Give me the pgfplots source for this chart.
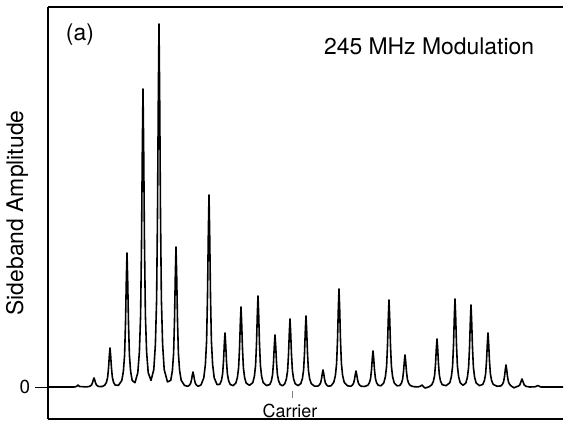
\documentclass[border=0pt]{standalone}
\usepackage{fontspec}
\setmainfont{TeX Gyre Heros}
\usepackage{pgfplots}
\pgfplotsset{compat=1.18}
\begin{document}
\begin{tikzpicture}
\useasboundingbox (-48bp,-3bp) rectangle (516bp,419bp);
\begin{axis}[
  at={(0,0)}, anchor=south west,
  scale only axis, width=515bp, height=412bp,
  xmin=48, xmax=563, ymin=-32, ymax=380,
  axis x line*=box, axis y line*=left,
  axis line style={line width=1.3pt, black},
  xtick=\empty, ytick={0}, yticklabels={},
  tick align=outside, major tick length=13bp,
  tick style={line width=1pt, black},
  clip=false,
]
\addplot[black, line width=1.6pt, line join=round] coordinates {
(48,0) (70,0) (74,0) (76.5,0.5) (78,2) (79.5,0.5) (86,0.1)
(88.8,0.43) (90.4,1.06) (91.6,2.16) (92.5,4.28) (93.35,7.29) (94,9) (94.65,7.29) (95.5,4.28) (96.4,2.16) (97.6,1.06) (99.2,0.43)
(102,0.48)
(104.8,1.87) (106.4,4.60) (107.6,9.36) (108.5,18.53) (109.35,31.59) (110,39) (110.65,31.59) (111.5,18.53) (112.4,9.36) (113.6,4.60) (115.2,1.87)
(118.5,1.73)
(121.8,6.43) (123.4,15.81) (124.6,32.16) (125.5,63.65) (126.35,108.54) (127,134) (127.65,108.54) (128.5,63.65) (129.4,32.16) (130.6,15.81) (132.2,6.43)
(135,4.32)
(137.8,14.30) (139.4,35.16) (140.6,71.52) (141.5,141.55) (142.35,241.38) (143,298) (143.65,241.38) (144.5,141.55) (145.4,71.52) (146.6,35.16) (148.2,14.30)
(151,6.61)
(153.8,17.42) (155.4,42.83) (156.6,87.12) (157.5,172.43) (158.35,294.03) (159,363) (159.65,294.03) (160.5,172.43) (161.4,87.12) (162.6,42.83) (164.2,17.42)
(167.5,5.03)
(170.8,6.72) (172.4,16.52) (173.6,33.6) (174.5,66.5) (175.35,113.4) (176,140) (176.65,113.4) (177.5,66.5) (178.4,33.6) (179.6,16.52) (181.2,6.72)
(184.5,1.55)
(187.8,0.72) (189.4,1.77) (190.6,3.6) (191.5,7.13) (192.35,12.15) (193,15) (193.65,12.15) (194.5,7.13) (195.4,3.6) (196.6,1.77) (198.2,0.72)
(201,2.07)
(203.8,9.22) (205.4,22.66) (206.6,46.08) (207.5,91.2) (208.35,155.52) (209,192) (209.65,155.52) (210.5,91.2) (211.4,46.08) (212.6,22.66) (214.2,9.22)
(217,2.46)
(219.8,2.59) (221.4,6.37) (222.6,12.96) (223.5,25.65) (224.35,43.74) (225,54) (225.65,43.74) (226.5,25.65) (227.4,12.96) (228.6,6.37) (230.2,2.59)
(233,1.34)
(235.8,3.84) (237.4,9.44) (238.6,19.2) (239.5,38) (240.35,64.8) (241,80) (241.65,64.8) (242.5,38) (243.4,19.2) (244.6,9.44) (246.2,3.84)
(249.5,1.71)
(252.8,4.37) (254.4,10.74) (255.6,21.84) (256.5,43.23) (257.35,73.71) (258,91) (258.65,73.71) (259.5,43.23) (260.4,21.84) (261.6,10.74) (263.2,4.37)
(266.5,1.43)
(269.8,2.50) (271.4,6.14) (272.6,12.48) (273.5,24.7) (274.35,42.12) (275,52) (275.65,42.12) (276.5,24.7) (277.4,12.48) (278.6,6.14) (280.2,2.50)
(282.5,1.2)
(284.8,3.26) (286.4,8.02) (287.6,16.32) (288.5,32.3) (289.35,55.08) (290,68) (290.65,55.08) (291.5,32.3) (292.4,16.32) (293.6,8.02) (295.2,3.26)
(298,1.39)
(300.8,3.41) (302.4,8.38) (303.6,17.04) (304.5,33.73) (305.35,57.51) (306,71) (306.65,57.51) (307.5,33.73) (308.4,17.04) (309.6,8.38) (311.2,3.41)
(314.5,0.88)
(317.8,0.82) (319.4,2.01) (320.6,4.08) (321.5,8.08) (322.35,13.77) (323,17) (323.65,13.77) (324.5,8.08) (325.4,4.08) (326.6,2.01) (328.2,0.82)
(331,1.15)
(333.8,4.70) (335.4,11.56) (336.6,23.52) (337.5,46.55) (338.35,79.38) (339,98) (339.65,79.38) (340.5,46.55) (341.4,23.52) (342.6,11.56) (344.2,4.70)
(347.5,1.14)
(350.8,0.77) (352.4,1.89) (353.6,3.84) (354.5,7.6) (355.35,12.96) (356,16) (356.65,12.96) (357.5,7.6) (358.4,3.84) (359.6,1.89) (361.2,0.77)
(364.5,0.52)
(367.8,1.73) (369.4,4.25) (370.6,8.64) (371.5,17.1) (372.35,29.16) (373,36) (373.65,29.16) (374.5,17.1) (375.4,8.64) (376.6,4.25) (378.2,1.73)
(381,1.23)
(383.8,4.18) (385.4,10.27) (386.6,20.88) (387.5,41.33) (388.35,70.47) (389,87) (389.65,70.47) (390.5,41.33) (391.4,20.88) (392.6,10.27) (394.2,4.18)
(397,1.19)
(399.8,1.54) (401.4,3.78) (402.6,7.68) (403.5,15.2) (404.35,25.92) (405,32) (405.65,25.92) (406.5,15.2) (407.4,7.68) (408.6,3.78) (410.2,1.54)
(413.5,0.35)
(418,0.1) (420.5,0.8) (422,2) (423.5,0.3) (425,-1) (427,-0.5)
(429.5,0.5)
(431.8,2.30) (433.4,5.66) (434.6,11.52) (435.5,22.8) (436.35,38.88) (437,48) (437.65,38.88) (438.5,22.8) (439.4,11.52) (440.6,5.66) (442.2,2.30)
(446,1.36)
(449.8,4.22) (451.4,10.38) (452.6,21.12) (453.5,41.8) (454.35,71.28) (455,88) (455.65,71.28) (456.5,41.8) (457.4,21.12) (458.6,10.38) (460.2,4.22)
(463,1.7)
(465.8,3.94) (467.4,9.68) (468.6,19.68) (469.5,38.95) (470.35,66.42) (471,82) (471.65,66.42) (472.5,38.95) (473.4,19.68) (474.6,9.68) (476.2,3.94)
(479.5,1.36)
(482.8,2.59) (484.4,6.37) (485.6,12.96) (486.5,25.65) (487.35,43.74) (488,54) (488.65,43.74) (489.5,25.65) (490.4,12.96) (491.6,6.37) (493.2,2.59)
(497,0.76)
(500.8,1.06) (502.4,2.60) (503.6,5.28) (504.5,10.45) (505.35,17.82) (506,22) (506.65,17.82) (507.5,10.45) (508.4,5.28) (509.6,2.60) (511.2,1.06)
(514,-0.8)
(516.8,0.38) (518.4,0.94) (519.6,1.92) (520.5,3.8) (521.35,6.48) (522,8) (522.65,6.48) (523.5,3.8) (524.4,1.92) (525.6,0.94) (527.2,0.38)
(530,0)
(535,0.2) (536.5,0.8) (538,1.5) (539.5,0.6) (541,0)
(563,0)
};
\draw[gray, line width=0.9pt] (axis cs:292,-4) -- (axis cs:292,-11);
\node[font=\fontsize{18}{20}\selectfont] at (axis cs:290,-24) {Carrier};
\node[font=\fontsize{19}{21}\selectfont] at (axis cs:25,0) {0};
\node[font=\fontsize{23}{27}\selectfont] at (axis description cs:0.062,0.934) {(a)};
\node[font=\fontsize{23}{27}\selectfont] at (axis description cs:0.740,0.905) {245 MHz Modulation};
\node[font=\fontsize{23}{27}\selectfont, rotate=90] at ([xshift=-31bp]axis description cs:0,0.5) {Sideband Amplitude};
\end{axis}
\end{tikzpicture}
\end{document}
